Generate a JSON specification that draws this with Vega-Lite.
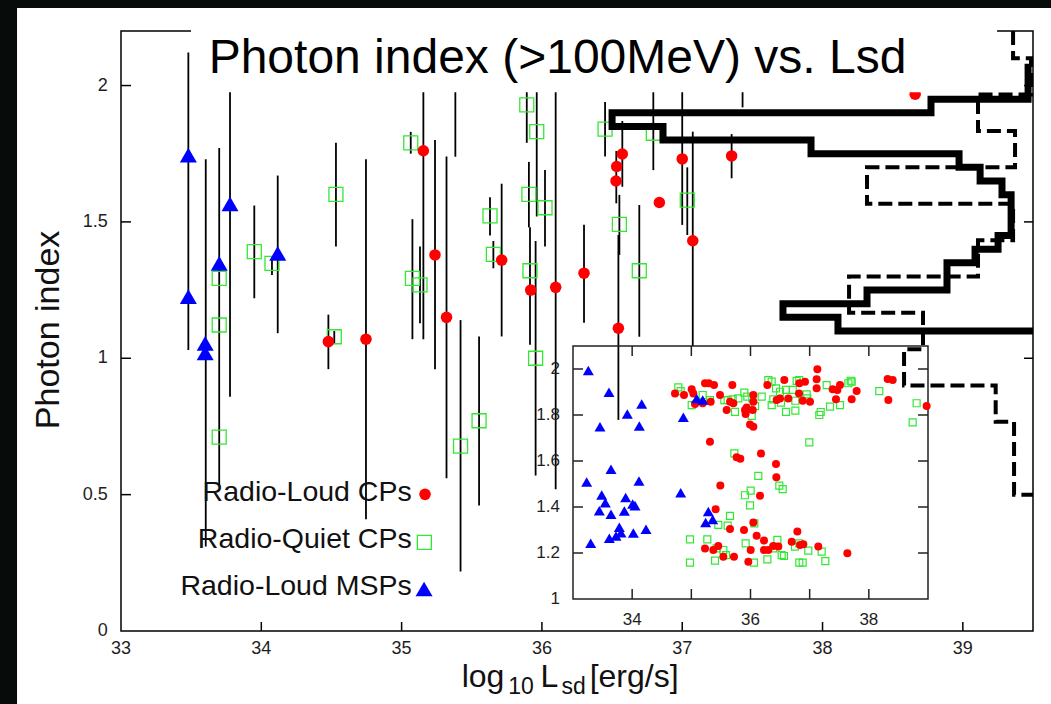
{
"$schema": "https://vega.github.io/schema/vega-lite/v6.json",
"width": 912, "height": 600,
"autosize": {"type": "none"},
"padding": {"left": 121, "top": 31, "right": 18, "bottom": 73},
"background": "white",
"config": {"view": {"stroke": null}, "font": "Liberation Sans"},
"data": {"values": [{"k": 1}]},
"datasets": {
 "pts": [
  {"x":34.478,"y":1.061,"t":"RL"},{"x":34.746,"y":1.07,"t":"RL"},{"x":35.155,"y":1.761,"t":"RL"},{"x":35.238,"y":1.379,"t":"RL"},{"x":35.32,"y":1.15,"t":"RL"},{"x":35.713,"y":1.36,"t":"RL"},{"x":35.92,"y":1.25,"t":"RL"},{"x":36.098,"y":1.26,"t":"RL"},{"x":36.30,"y":1.312,"t":"RL"},{"x":36.573,"y":1.749,"t":"RL"},{"x":36.533,"y":1.703,"t":"RL"},{"x":36.528,"y":1.65,"t":"RL"},{"x":36.545,"y":1.11,"t":"RL"},{"x":36.837,"y":1.571,"t":"RL"},{"x":37.0,"y":1.731,"t":"RL"},{"x":37.075,"y":1.431,"t":"RL"},{"x":37.352,"y":1.742,"t":"RL"},{"x":38.66,"y":1.968,"t":"RL"},
  {"x":33.70,"y":1.293,"t":"RQ"},{"x":33.70,"y":1.122,"t":"RQ"},{"x":33.70,"y":0.711,"t":"RQ"},{"x":33.95,"y":1.391,"t":"RQ"},{"x":34.076,"y":1.348,"t":"RQ"},{"x":34.532,"y":1.601,"t":"RQ"},{"x":34.52,"y":1.079,"t":"RQ"},{"x":35.065,"y":1.79,"t":"RQ"},{"x":35.077,"y":1.293,"t":"RQ"},{"x":35.131,"y":1.269,"t":"RQ"},{"x":35.42,"y":0.678,"t":"RQ"},{"x":35.552,"y":0.771,"t":"RQ"},{"x":35.63,"y":1.522,"t":"RQ"},{"x":35.654,"y":1.381,"t":"RQ"},{"x":35.892,"y":1.929,"t":"RQ"},{"x":35.963,"y":1.831,"t":"RQ"},{"x":35.907,"y":1.601,"t":"RQ"},{"x":35.915,"y":1.321,"t":"RQ"},{"x":36.022,"y":1.552,"t":"RQ"},{"x":35.955,"y":1.0,"t":"RQ"},{"x":36.45,"y":1.84,"t":"RQ"},{"x":36.552,"y":1.491,"t":"RQ"},{"x":36.694,"y":1.321,"t":"RQ"},{"x":36.794,"y":1.825,"t":"RQ"},{"x":37.036,"y":1.58,"t":"RQ"},
  {"x":33.48,"y":1.745,"t":"MSP"},{"x":33.48,"y":1.226,"t":"MSP"},{"x":33.60,"y":1.055,"t":"MSP"},{"x":33.60,"y":1.02,"t":"MSP"},{"x":33.70,"y":1.348,"t":"MSP"},{"x":33.777,"y":1.566,"t":"MSP"},{"x":34.117,"y":1.385,"t":"MSP"}
 ],
 "err": [
  {"x":33.48,"lo":1.03,"hi":2.121},{"x":33.604,"lo":0.31,"hi":1.73},{"x":33.70,"lo":0.529,"hi":1.771},{"x":33.777,"lo":0.859,"hi":2.05},{"x":33.95,"lo":1.22,"hi":1.56},{"x":34.076,"lo":1.305,"hi":1.37},{"x":34.117,"lo":1.092,"hi":1.67},{"x":34.532,"lo":1.41,"hi":1.79},{"x":34.478,"lo":0.96,"hi":1.16},{"x":34.52,"lo":1.055,"hi":1.10},{"x":34.746,"lo":0.41,"hi":1.73},{"x":35.065,"lo":1.75,"hi":1.83},{"x":35.155,"lo":1.07,"hi":2.05},{"x":35.077,"lo":1.07,"hi":1.51},{"x":35.131,"lo":1.128,"hi":1.41},{"x":35.238,"lo":0.96,"hi":1.80},{"x":35.32,"lo":0.56,"hi":1.74},{"x":35.383,"lo":1.739,"hi":2.05},{"x":35.42,"lo":0.218,"hi":1.14},{"x":35.552,"lo":0.46,"hi":1.08},{"x":35.63,"lo":1.45,"hi":1.59},{"x":35.654,"lo":1.33,"hi":1.43},{"x":35.713,"lo":1.08,"hi":1.64},{"x":35.892,"lo":1.79,"hi":2.05},{"x":35.963,"lo":1.52,"hi":2.05},{"x":35.907,"lo":1.48,"hi":1.72},{"x":35.915,"lo":1.05,"hi":1.48},{"x":35.955,"lo":0.57,"hi":1.43},{"x":36.022,"lo":1.41,"hi":1.69},{"x":36.098,"lo":0.52,"hi":2.05},{"x":36.30,"lo":1.13,"hi":1.49},{"x":36.45,"lo":1.74,"hi":1.94},{"x":36.573,"lo":1.629,"hi":1.87},{"x":36.53,"lo":1.568,"hi":1.76},{"x":36.552,"lo":1.379,"hi":1.599},{"x":36.545,"lo":0.774,"hi":1.452},{"x":36.694,"lo":1.079,"hi":1.562},{"x":36.794,"lo":1.69,"hi":2.05},{"x":37.0,"lo":1.489,"hi":2.05},{"x":37.036,"lo":1.452,"hi":1.70},{"x":37.075,"lo":1.045,"hi":1.831},{"x":37.352,"lo":1.66,"hi":1.822},{"x":37.43,"lo":1.92,"hi":2.05}
 ],
 "hs": [
  {"i":1,"x":39.465,"y":2.08},{"i":2,"x":39.465,"y":1.95},{"i":3,"x":38.773,"y":1.95},{"i":4,"x":38.773,"y":1.90},{"i":5,"x":36.50,"y":1.90},{"i":6,"x":36.50,"y":1.85},{"i":7,"x":36.863,"y":1.85},{"i":8,"x":36.863,"y":1.80},{"i":9,"x":37.918,"y":1.80},{"i":10,"x":37.918,"y":1.75},{"i":11,"x":38.973,"y":1.75},{"i":12,"x":38.973,"y":1.70},{"i":13,"x":39.123,"y":1.70},{"i":14,"x":39.123,"y":1.65},{"i":15,"x":39.279,"y":1.65},{"i":16,"x":39.279,"y":1.60},{"i":17,"x":39.344,"y":1.60},{"i":18,"x":39.344,"y":1.45},{"i":19,"x":39.251,"y":1.45},{"i":20,"x":39.251,"y":1.40},{"i":21,"x":39.087,"y":1.40},{"i":22,"x":39.087,"y":1.35},{"i":23,"x":38.887,"y":1.35},{"i":24,"x":38.887,"y":1.25},{"i":25,"x":38.317,"y":1.25},{"i":26,"x":38.317,"y":1.20},{"i":27,"x":37.718,"y":1.20},{"i":28,"x":37.718,"y":1.15},{"i":29,"x":38.11,"y":1.15},{"i":30,"x":38.11,"y":1.10},{"i":31,"x":39.5,"y":1.10}
 ],
 "hd": [
  {"i":1,"x":39.358,"y":2.2},{"i":2,"x":39.358,"y":2.1},{"i":3,"x":39.486,"y":2.1},{"i":4,"x":39.486,"y":1.967},{"i":5,"x":39.108,"y":1.967},{"i":6,"x":39.108,"y":1.833},{"i":7,"x":39.372,"y":1.833},{"i":8,"x":39.372,"y":1.7},{"i":9,"x":38.317,"y":1.7},{"i":10,"x":38.317,"y":1.567},{"i":11,"x":39.358,"y":1.567},{"i":12,"x":39.358,"y":1.433},{"i":13,"x":39.108,"y":1.433},{"i":14,"x":39.108,"y":1.3},{"i":15,"x":38.189,"y":1.3},{"i":16,"x":38.189,"y":1.167},{"i":17,"x":38.716,"y":1.167},{"i":18,"x":38.716,"y":1.033},{"i":19,"x":38.581,"y":1.033},{"i":20,"x":38.581,"y":0.9},{"i":21,"x":39.234,"y":0.9},{"i":22,"x":39.234,"y":0.767},{"i":23,"x":39.365,"y":0.767},{"i":24,"x":39.365,"y":0.5},{"i":25,"x":39.5,"y":0.5}
 ],
 "ins": [
  {"x":34.724,"y":1.894,"t":"RL"},{"x":34.876,"y":1.887,"t":"RL"},{"x":35.006,"y":1.912,"t":"RL"},{"x":35.034,"y":1.894,"t":"RL"},{"x":35.062,"y":1.848,"t":"RL"},{"x":35.192,"y":1.851,"t":"RL"},{"x":35.231,"y":1.938,"t":"RL"},{"x":35.293,"y":1.938,"t":"RL"},{"x":35.383,"y":1.930,"t":"RL"},{"x":35.327,"y":1.858,"t":"RL"},{"x":35.485,"y":1.887,"t":"RL"},{"x":35.597,"y":1.822,"t":"RL"},{"x":35.693,"y":1.930,"t":"RL"},{"x":35.654,"y":1.858,"t":"RL"},{"x":35.710,"y":1.851,"t":"RL"},{"x":35.907,"y":1.822,"t":"RL"},{"x":35.918,"y":1.804,"t":"RL"},{"x":35.935,"y":1.833,"t":"RL"},{"x":36.048,"y":1.887,"t":"RL"},{"x":36.048,"y":1.858,"t":"RL"},{"x":36.037,"y":1.822,"t":"RL"},{"x":35.992,"y":1.759,"t":"RL"},{"x":36.048,"y":1.749,"t":"RL"},{"x":36.285,"y":1.930,"t":"RL"},{"x":36.442,"y":1.865,"t":"RL"},{"x":36.499,"y":1.872,"t":"RL"},{"x":36.572,"y":1.952,"t":"RL"},{"x":36.639,"y":1.872,"t":"RL"},{"x":36.820,"y":1.894,"t":"RL"},{"x":36.825,"y":1.938,"t":"RL"},{"x":36.921,"y":1.945,"t":"RL"},{"x":36.882,"y":1.862,"t":"RL"},{"x":37.006,"y":1.858,"t":"RL"},{"x":37.130,"y":1.999,"t":"RL"},{"x":37.118,"y":1.955,"t":"RL"},{"x":37.118,"y":1.916,"t":"RL"},{"x":37.389,"y":1.912,"t":"RL"},{"x":37.445,"y":1.868,"t":"RL"},{"x":37.468,"y":1.909,"t":"RL"},{"x":37.513,"y":1.930,"t":"RL"},{"x":37.710,"y":1.868,"t":"RL"},{"x":37.794,"y":1.904,"t":"RL"},{"x":38.318,"y":1.957,"t":"RL"},{"x":38.403,"y":1.952,"t":"RL"},{"x":38.330,"y":1.865,"t":"RL"},{"x":38.977,"y":1.839,"t":"RL"},
  {"x":35.315,"y":1.684,"t":"RL"},{"x":35.766,"y":1.616,"t":"RL"},{"x":35.828,"y":1.610,"t":"RL"},{"x":36.177,"y":1.633,"t":"RL"},{"x":36.431,"y":1.587,"t":"RL"},{"x":36.437,"y":1.529,"t":"RL"},{"x":35.490,"y":1.493,"t":"RL"},{"x":36.161,"y":1.449,"t":"RL"},
  {"x":35.411,"y":1.390,"t":"RL"},{"x":35.654,"y":1.304,"t":"RL"},{"x":35.890,"y":1.300,"t":"RL"},{"x":36.048,"y":1.333,"t":"RL"},{"x":36.104,"y":1.275,"t":"RL"},{"x":36.228,"y":1.254,"t":"RL"},{"x":36.386,"y":1.230,"t":"RL"},{"x":35.231,"y":1.220,"t":"RL"},{"x":35.372,"y":1.213,"t":"RL"},{"x":35.456,"y":1.230,"t":"RL"},{"x":35.541,"y":1.184,"t":"RL"},{"x":35.721,"y":1.184,"t":"RL"},{"x":35.963,"y":1.162,"t":"RL"},{"x":36.003,"y":1.213,"t":"RL"},{"x":36.228,"y":1.213,"t":"RL"},{"x":36.301,"y":1.213,"t":"RL"},{"x":36.470,"y":1.228,"t":"RL"},{"x":36.696,"y":1.249,"t":"RL"},{"x":36.792,"y":1.293,"t":"RL"},{"x":36.893,"y":1.238,"t":"RL"},{"x":36.837,"y":1.235,"t":"RL"},{"x":37.146,"y":1.228,"t":"RL"},{"x":37.637,"y":1.199,"t":"RL"},
  {"x":34.780,"y":1.920,"t":"RQ"},{"x":34.820,"y":1.904,"t":"RQ"},{"x":35.006,"y":1.843,"t":"RQ"},{"x":35.192,"y":1.887,"t":"RQ"},{"x":35.315,"y":1.865,"t":"RQ"},{"x":35.558,"y":1.865,"t":"RQ"},{"x":35.614,"y":1.865,"t":"RQ"},{"x":35.699,"y":1.868,"t":"RQ"},{"x":35.738,"y":1.814,"t":"RQ"},{"x":35.794,"y":1.872,"t":"RQ"},{"x":35.896,"y":1.897,"t":"RQ"},{"x":35.946,"y":1.880,"t":"RQ"},{"x":36.031,"y":1.872,"t":"RQ"},{"x":36.076,"y":1.839,"t":"RQ"},{"x":36.020,"y":1.796,"t":"RQ"},{"x":36.189,"y":1.880,"t":"RQ"},{"x":36.301,"y":1.952,"t":"RQ"},{"x":36.358,"y":1.945,"t":"RQ"},{"x":36.431,"y":1.916,"t":"RQ"},{"x":36.358,"y":1.843,"t":"RQ"},{"x":36.499,"y":1.901,"t":"RQ"},{"x":36.386,"y":1.868,"t":"RQ"},{"x":36.515,"y":1.854,"t":"RQ"},{"x":36.600,"y":1.909,"t":"RQ"},{"x":36.713,"y":1.909,"t":"RQ"},{"x":36.600,"y":1.814,"t":"RQ"},{"x":36.758,"y":1.819,"t":"RQ"},{"x":36.758,"y":1.862,"t":"RQ"},{"x":36.780,"y":1.948,"t":"RQ"},{"x":36.825,"y":1.952,"t":"RQ"},{"x":36.949,"y":1.890,"t":"RQ"},{"x":36.961,"y":1.872,"t":"RQ"},{"x":37.287,"y":1.930,"t":"RQ"},{"x":37.163,"y":1.800,"t":"RQ"},{"x":37.186,"y":1.813,"t":"RQ"},{"x":37.344,"y":1.836,"t":"RQ"},{"x":37.513,"y":1.843,"t":"RQ"},{"x":37.654,"y":1.938,"t":"RQ"},{"x":37.693,"y":1.949,"t":"RQ"},{"x":37.710,"y":1.945,"t":"RQ"},{"x":38.177,"y":1.904,"t":"RQ"},{"x":38.808,"y":1.851,"t":"RQ"},{"x":38.741,"y":1.768,"t":"RQ"},{"x":36.994,"y":1.681,"t":"RQ"},
  {"x":35.727,"y":1.633,"t":"RQ"},{"x":36.132,"y":1.535,"t":"RQ"},{"x":36.487,"y":1.493,"t":"RQ"},{"x":36.544,"y":1.478,"t":"RQ"},{"x":36.003,"y":1.471,"t":"RQ"},{"x":35.907,"y":1.451,"t":"RQ"},{"x":35.992,"y":1.407,"t":"RQ"},
  {"x":35.654,"y":1.361,"t":"RQ"},{"x":35.456,"y":1.322,"t":"RQ"},{"x":35.614,"y":1.319,"t":"RQ"},{"x":36.065,"y":1.329,"t":"RQ"},{"x":34.977,"y":1.259,"t":"RQ"},{"x":35.270,"y":1.259,"t":"RQ"},{"x":35.918,"y":1.242,"t":"RQ"},{"x":36.454,"y":1.257,"t":"RQ"},{"x":35.428,"y":1.220,"t":"RQ"},{"x":35.541,"y":1.213,"t":"RQ"},{"x":35.586,"y":1.191,"t":"RQ"},{"x":36.386,"y":1.220,"t":"RQ"},{"x":36.527,"y":1.191,"t":"RQ"},{"x":36.566,"y":1.187,"t":"RQ"},{"x":36.752,"y":1.228,"t":"RQ"},{"x":36.825,"y":1.242,"t":"RQ"},{"x":36.977,"y":1.210,"t":"RQ"},{"x":37.203,"y":1.206,"t":"RQ"},{"x":34.977,"y":1.158,"t":"RQ"},{"x":35.400,"y":1.167,"t":"RQ"},{"x":36.059,"y":1.158,"t":"RQ"},{"x":36.285,"y":1.172,"t":"RQ"},{"x":36.825,"y":1.158,"t":"RQ"},{"x":36.882,"y":1.158,"t":"RQ"},{"x":37.265,"y":1.165,"t":"RQ"},
  {"x":33.259,"y":1.993,"t":"MSP"},{"x":33.608,"y":1.899,"t":"MSP"},{"x":34.161,"y":1.848,"t":"MSP"},{"x":33.918,"y":1.804,"t":"MSP"},{"x":33.456,"y":1.749,"t":"MSP"},{"x":34.121,"y":1.752,"t":"MSP"},{"x":34.865,"y":1.790,"t":"MSP"},{"x":35.090,"y":1.872,"t":"MSP"},{"x":35.192,"y":1.865,"t":"MSP"},{"x":33.642,"y":1.564,"t":"MSP"},{"x":33.231,"y":1.509,"t":"MSP"},{"x":34.115,"y":1.513,"t":"MSP"},{"x":34.820,"y":1.462,"t":"MSP"},{"x":33.485,"y":1.452,"t":"MSP"},{"x":33.890,"y":1.441,"t":"MSP"},{"x":33.546,"y":1.419,"t":"MSP"},{"x":34.008,"y":1.413,"t":"MSP"},{"x":34.048,"y":1.406,"t":"MSP"},{"x":33.445,"y":1.384,"t":"MSP"},{"x":33.868,"y":1.383,"t":"MSP"},{"x":33.642,"y":1.368,"t":"MSP"},{"x":35.287,"y":1.380,"t":"MSP"},{"x":35.242,"y":1.333,"t":"MSP"},{"x":35.361,"y":1.346,"t":"MSP"},{"x":33.783,"y":1.312,"t":"MSP"},{"x":33.811,"y":1.288,"t":"MSP"},{"x":33.727,"y":1.274,"t":"MSP"},{"x":33.614,"y":1.264,"t":"MSP"},{"x":34.020,"y":1.287,"t":"MSP"},{"x":34.234,"y":1.303,"t":"MSP"},{"x":33.299,"y":1.242,"t":"MSP"}
 ],
 "xt": [{"v":34},{"v":35},{"v":36},{"v":37},{"v":38},{"v":39}],
 "xl": [{"v":33},{"v":34},{"v":35},{"v":36},{"v":37},{"v":38},{"v":39}],
 "yt": [{"v":0.5},{"v":1},{"v":1.5},{"v":2}],
 "yl": [{"v":0},{"v":0.5},{"v":1},{"v":1.5},{"v":2}],
 "ixt": [{"v":34},{"v":35},{"v":36},{"v":37},{"v":38}],
 "ixl": [{"v":34},{"v":36},{"v":38}],
 "iyt": [{"v":1.2},{"v":1.4},{"v":1.6},{"v":1.8},{"v":2.0}],
 "iyl": [{"v":1},{"v":1.2},{"v":1.4},{"v":1.6},{"v":1.8},{"v":2.0}]
},
"layer": [
 {"layer": [
  {"data": {"name": "err"}, "mark": {"type": "rule", "color": "black", "strokeWidth": 1.8},
   "encoding": {
    "x": {"field": "x", "type": "quantitative", "scale": {"domain": [33, 39.5], "nice": false, "zero": false}, "axis": null},
    "y": {"field": "lo", "type": "quantitative", "scale": {"domain": [0, 2.2], "nice": false, "zero": false}, "axis": null},
    "y2": {"field": "hi"}}},
  {"mark": {"type": "rect", "fill": "#070b09"},
   "encoding": {"x": {"datum": 31.9, "axis": null}, "x2": {"datum": 32.259}, "y": {"datum": -0.4, "axis": null}, "y2": {"datum": 2.33}}},
  {"mark": {"type": "rect", "fill": "#070b09"},
   "encoding": {"x": {"datum": 31.9, "axis": null}, "x2": {"datum": 39.9}, "y": {"datum": 2.2843, "axis": null}, "y2": {"datum": 2.33}}},
  {"mark": {"type": "rect", "fillOpacity": 0, "stroke": "black", "strokeWidth": 1.5},
   "encoding": {"x": {"datum": 33, "axis": null}, "x2": {"datum": 39.5}, "y": {"datum": 0, "axis": null}, "y2": {"datum": 2.2}}},
  {"data": {"name": "xt"}, "mark": {"type": "rule", "color": "black", "strokeWidth": 1.5},
   "encoding": {"x": {"field": "v", "type": "quantitative", "axis": null}, "y": {"datum": 0, "axis": null}, "y2": {"datum": 0.033}}},
  {"data": {"name": "yt"}, "mark": {"type": "rule", "color": "black", "strokeWidth": 1.5},
   "encoding": {"y": {"field": "v", "type": "quantitative", "axis": null}, "x": {"datum": 33, "axis": null}, "x2": {"datum": 33.071}}},
  {"data": {"name": "yt"}, "mark": {"type": "rule", "color": "black", "strokeWidth": 1.5},
   "encoding": {"y": {"field": "v", "type": "quantitative", "axis": null}, "x": {"datum": 39.5, "axis": null}, "x2": {"datum": 39.436}}},
  {"data": {"name": "xl"}, "mark": {"type": "text", "fontSize": 18, "align": "center", "baseline": "alphabetic", "color": "#1e1e1e"},
   "encoding": {"x": {"field": "v", "type": "quantitative", "axis": null}, "y": {"datum": -0.0843, "axis": null}, "text": {"field": "v", "type": "quantitative", "format": "~g"}}},
  {"data": {"name": "yl"}, "mark": {"type": "text", "fontSize": 18, "align": "right", "baseline": "middle", "color": "#1e1e1e"},
   "encoding": {"y": {"field": "v", "type": "quantitative", "axis": null}, "x": {"datum": 32.905, "axis": null}, "text": {"field": "v", "type": "quantitative", "format": "~g"}}},
  {"mark": {"type": "text", "text": "Photon index", "fontSize": 34, "angle": 270, "align": "center", "baseline": "alphabetic", "color": "#111111"},
   "encoding": {"x": {"datum": 32.558, "axis": null}, "y": {"datum": 1.104, "axis": null}}},
  {"data": {"name": "pts"}, "transform": [{"filter": "datum.t == 'RQ'"}],
   "mark": {"type": "point", "shape": "square", "filled": false, "stroke": "#33e833", "strokeWidth": 1.3, "size": 196, "opacity": 1},
   "encoding": {"x": {"field": "x", "type": "quantitative", "axis": null}, "y": {"field": "y", "type": "quantitative", "axis": null}}},
  {"data": {"name": "pts"}, "transform": [{"filter": "datum.t == 'RL'"}],
   "mark": {"type": "point", "shape": "circle", "filled": true, "fill": "#ff0000", "strokeWidth": 0, "size": 133, "opacity": 1},
   "encoding": {"x": {"field": "x", "type": "quantitative", "axis": null}, "y": {"field": "y", "type": "quantitative", "axis": null}}},
  {"data": {"name": "pts"}, "transform": [{"filter": "datum.t == 'MSP'"}],
   "mark": {"type": "point", "shape": "triangle-up", "filled": true, "fill": "#0000ff", "strokeWidth": 0, "size": 289, "opacity": 1},
   "encoding": {"x": {"field": "x", "type": "quantitative", "axis": null}, "y": {"field": "y", "type": "quantitative", "axis": null}}},
  {"mark": {"type": "rect", "fill": "white"},
   "encoding": {"x": {"datum": 33.499, "axis": null}, "x2": {"datum": 39.244}, "y": {"datum": 1.975, "axis": null}, "y2": {"datum": 2.2843}}},
  {"mark": {"type": "text", "text": "Photon index (>100MeV) vs. Lsd", "fontSize": 48, "align": "center", "baseline": "alphabetic", "color": "black"},
   "encoding": {"x": {"datum": 36.111, "axis": null}, "y": {"datum": 2.046, "axis": null}}},
  {"data": {"name": "hd"}, "mark": {"type": "line", "color": "black", "strokeWidth": 4, "strokeDash": [14, 6], "strokeJoin": "miter", "strokeCap": "butt"},
   "encoding": {"x": {"field": "x", "type": "quantitative", "axis": null}, "y": {"field": "y", "type": "quantitative", "axis": null}, "order": {"field": "i", "type": "quantitative"}}},
  {"data": {"name": "hs"}, "mark": {"type": "line", "color": "black", "strokeWidth": 7, "strokeJoin": "miter", "strokeCap": "butt"},
   "encoding": {"x": {"field": "x", "type": "quantitative", "axis": null}, "y": {"field": "y", "type": "quantitative", "axis": null}, "order": {"field": "i", "type": "quantitative"}}},
  {"mark": {"type": "text", "text": "Radio-Loud CPs", "fontSize": 28.5, "align": "right", "baseline": "alphabetic", "color": "#111111"},
   "encoding": {"x": {"datum": 35.072, "axis": null}, "y": {"datum": 0.478, "axis": null}}},
  {"mark": {"type": "text", "text": "Radio-Quiet CPs", "fontSize": 28.5, "align": "right", "baseline": "alphabetic", "color": "#111111"},
   "encoding": {"x": {"datum": 35.072, "axis": null}, "y": {"datum": 0.304, "axis": null}}},
  {"mark": {"type": "text", "text": "Radio-Loud MSPs", "fontSize": 28.5, "align": "right", "baseline": "alphabetic", "color": "#111111"},
   "encoding": {"x": {"datum": 35.072, "axis": null}, "y": {"datum": 0.132, "axis": null}}},
  {"mark": {"type": "point", "shape": "circle", "filled": true, "fill": "#ff0000", "strokeWidth": 0, "size": 133, "opacity": 1},
   "encoding": {"x": {"datum": 35.167, "axis": null}, "y": {"datum": 0.501, "axis": null}}},
  {"mark": {"type": "point", "shape": "square", "filled": false, "stroke": "#33e833", "strokeWidth": 1.3, "size": 196, "opacity": 1},
   "encoding": {"x": {"datum": 35.162, "axis": null}, "y": {"datum": 0.325, "axis": null}}},
  {"mark": {"type": "point", "shape": "triangle-up", "filled": true, "fill": "#0000ff", "strokeWidth": 0, "size": 289, "opacity": 1},
   "encoding": {"x": {"datum": 35.16, "axis": null}, "y": {"datum": 0.154, "axis": null}}},
  {"mark": {"type": "text", "text": "log", "fontSize": 32, "align": "left", "baseline": "alphabetic", "color": "#111111"},
   "encoding": {"x": {"datum": 35.428, "axis": null}, "y": {"datum": -0.2054, "axis": null}}},
  {"mark": {"type": "text", "text": "10", "fontSize": 23, "align": "left", "baseline": "alphabetic", "color": "#111111"},
   "encoding": {"x": {"datum": 35.76, "axis": null}, "y": {"datum": -0.231, "axis": null}}},
  {"mark": {"type": "text", "text": "L", "fontSize": 32, "align": "left", "baseline": "alphabetic", "color": "#111111"},
   "encoding": {"x": {"datum": 35.99, "axis": null}, "y": {"datum": -0.2054, "axis": null}}},
  {"mark": {"type": "text", "text": "sd", "fontSize": 23, "align": "left", "baseline": "alphabetic", "color": "#111111"},
   "encoding": {"x": {"datum": 36.14, "axis": null}, "y": {"datum": -0.231, "axis": null}}},
  {"mark": {"type": "text", "text": "[erg/s]", "fontSize": 32, "align": "left", "baseline": "alphabetic", "color": "#111111"},
   "encoding": {"x": {"datum": 36.34, "axis": null}, "y": {"datum": -0.2054, "axis": null}}}
 ]},
 {"layer": [
  {"data": {"name": "ins"}, "transform": [{"filter": "datum.t == 'RQ'"}],
   "mark": {"type": "point", "shape": "square", "filled": false, "stroke": "#33e833", "strokeWidth": 1.2, "size": 49, "opacity": 1},
   "encoding": {
    "x": {"field": "x", "type": "quantitative", "scale": {"domain": [33, 39], "range": [452, 807], "nice": false, "zero": false}, "axis": null},
    "y": {"field": "y", "type": "quantitative", "scale": {"domain": [1, 2.1], "range": [568, 315], "nice": false, "zero": false}, "axis": null}}},
  {"mark": {"type": "rect", "fillOpacity": 0, "stroke": "#222222", "strokeWidth": 1.5},
   "encoding": {"x": {"datum": 33, "axis": null}, "x2": {"datum": 39}, "y": {"datum": 1, "axis": null}, "y2": {"datum": 2.1}}},
  {"data": {"name": "ixt"}, "mark": {"type": "rule", "color": "#222222", "strokeWidth": 1.5},
   "encoding": {"x": {"field": "v", "type": "quantitative", "axis": null}, "y": {"datum": 1, "axis": null}, "y2": {"datum": 1.0435}}},
  {"data": {"name": "ixt"}, "mark": {"type": "rule", "color": "#222222", "strokeWidth": 1.5},
   "encoding": {"x": {"field": "v", "type": "quantitative", "axis": null}, "y": {"datum": 2.1, "axis": null}, "y2": {"datum": 2.0565}}},
  {"data": {"name": "iyt"}, "mark": {"type": "rule", "color": "#222222", "strokeWidth": 1.5},
   "encoding": {"y": {"field": "v", "type": "quantitative", "axis": null}, "x": {"datum": 33, "axis": null}, "x2": {"datum": 33.169}}},
  {"data": {"name": "iyt"}, "mark": {"type": "rule", "color": "#222222", "strokeWidth": 1.5},
   "encoding": {"y": {"field": "v", "type": "quantitative", "axis": null}, "x": {"datum": 39, "axis": null}, "x2": {"datum": 38.831}}},
  {"data": {"name": "ixl"}, "mark": {"type": "text", "fontSize": 17, "align": "center", "baseline": "alphabetic", "color": "#1e1e1e"},
   "encoding": {"x": {"field": "v", "type": "quantitative", "axis": null}, "y": {"datum": 0.885, "axis": null}, "text": {"field": "v", "type": "quantitative", "format": "~g"}}},
  {"data": {"name": "iyl"}, "mark": {"type": "text", "fontSize": 17, "align": "right", "baseline": "middle", "color": "#1e1e1e"},
   "encoding": {"y": {"field": "v", "type": "quantitative", "axis": null}, "x": {"datum": 32.78, "axis": null}, "text": {"field": "v", "type": "quantitative", "format": "~g"}}},
  {"data": {"name": "ins"}, "transform": [{"filter": "datum.t == 'RL'"}],
   "mark": {"type": "point", "shape": "circle", "filled": true, "fill": "#ff0000", "strokeWidth": 0, "size": 64, "opacity": 1},
   "encoding": {"x": {"field": "x", "type": "quantitative", "axis": null}, "y": {"field": "y", "type": "quantitative", "axis": null}}},
  {"data": {"name": "ins"}, "transform": [{"filter": "datum.t == 'MSP'"}],
   "mark": {"type": "point", "shape": "triangle-up", "filled": true, "fill": "#0000ff", "strokeWidth": 0, "size": 121, "opacity": 1},
   "encoding": {"x": {"field": "x", "type": "quantitative", "axis": null}, "y": {"field": "y", "type": "quantitative", "axis": null}}}
 ]}
],
"resolve": {"scale": {"x": "independent", "y": "independent"}}
}
